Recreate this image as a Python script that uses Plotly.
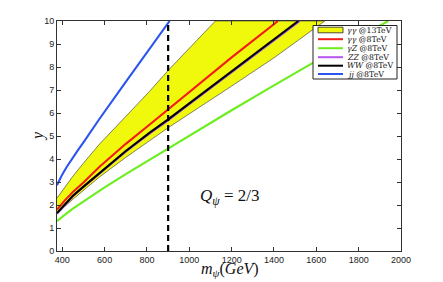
import plotly.graph_objects as go

# ---------------- data ----------------
band_upper_x = [375, 390, 410, 450, 500, 576, 700, 813, 900, 1000, 1123]
band_upper_y = [2.3, 2.5, 2.75, 3.25, 3.82, 4.65, 5.85, 6.95, 7.85, 8.8, 10.0]
band_lower_x = [375, 390, 410, 450, 500, 576, 700, 813, 900, 1000, 1200, 1400, 1640]
band_lower_y = [1.6, 1.74, 1.92, 2.25, 2.65, 3.22, 4.07, 4.8, 5.36, 5.97, 7.17, 8.4, 10.0]

aa8_x = [375, 390, 410, 450, 500, 576, 700, 813, 900, 1000, 1200, 1419]
aa8_y = [1.8, 1.97, 2.18, 2.57, 2.98, 3.66, 4.66, 5.5, 6.15, 6.9, 8.42, 10.0]

az8_x = [375, 390, 410, 450, 500, 600, 700, 800, 900, 1000, 1200, 1400, 1600, 1800, 1940]
az8_y = [1.3, 1.42, 1.56, 1.84, 2.16, 2.77, 3.34, 3.9, 4.45, 5.0, 6.12, 7.2, 8.27, 9.3, 10.0]

zz8_x = [375, 390, 410, 450, 500, 576, 700, 813, 900, 1000, 1200, 1400, 1522]
zz8_y = [1.63, 1.79, 1.99, 2.38, 2.78, 3.38, 4.32, 5.11, 5.68, 6.38, 7.77, 9.14, 10.0]

ww8_x = [375, 390, 410, 450, 500, 576, 700, 813, 900, 1000, 1200, 1400, 1515]
ww8_y = [1.65, 1.81, 2.01, 2.4, 2.8, 3.4, 4.35, 5.15, 5.72, 6.42, 7.82, 9.2, 10.0]

jj8_x = [375, 385, 400, 420, 445, 470, 500, 576, 700, 773, 850, 907]
jj8_y = [2.86, 3.06, 3.33, 3.64, 4.0, 4.33, 4.72, 5.75, 7.35, 8.27, 9.25, 10.0]

mass_cut = 900
x_ticks = [400, 600, 800, 1000, 1200, 1400, 1600, 1800, 2000]
y_ticks = list(range(0, 11))

legend_labels = [
    "<i>γγ</i> @13TeV",
    "<i>γγ</i> @8TeV",
    "<i>γZ</i> @8TeV",
    "<i>ZZ</i> @8TeV",
    "<i>WW</i> @8TeV",
    "<i>jj</i> @8TeV",
]

# ---------------- styles ----------------
YELLOW = "#f0f80c"
RED = "#f21c1c"
GREEN = "#6cee1e"
PURPLE = "#b455f0"
BLACK = "#000000"
BLUE = "#2a55ee"
SERIF = "Liberation Serif, DejaVu Serif, serif"
LEG_SERIF = "DejaVu Serif, Liberation Serif, serif"
SANS = "Liberation Sans, Arial, sans-serif"

W, H = 443, 282
L, R, T, B = 57, 401, 21, 251  # plot area in px

fig = go.Figure()

# yellow band polygon
poly_x = band_upper_x + band_lower_x[::-1]
poly_y = band_upper_y + band_lower_y[::-1]
fig.add_trace(go.Scatter(x=poly_x, y=poly_y, mode="lines", fill="toself",
                         fillcolor=YELLOW, line=dict(color="#333", width=0.6),
                         hoverinfo="skip", showlegend=False))

for xs, ys, col in [(az8_x, az8_y, GREEN), (jj8_x, jj8_y, BLUE),
                    (aa8_x, aa8_y, RED), (zz8_x, zz8_y, PURPLE),
                    (ww8_x, ww8_y, BLACK)]:
    fig.add_trace(go.Scatter(x=xs, y=ys, mode="lines",
                             line=dict(color=col, width=2.1),
                             showlegend=False))

# dashed vertical line
fig.add_trace(go.Scatter(x=[mass_cut, mass_cut], y=[0, 10], mode="lines",
                         line=dict(color=BLACK, width=2.2, dash="6px,4px"),
                         showlegend=False))

# ---------------- manual legend ----------------
def px_x(p):
    return (p - L) / (R - L)

def px_y(p):
    return (B - p) / (B - T)

shapes = []
annotations = []
shapes.append(dict(type="rect", xref="paper", yref="paper",
                   x0=px_x(313), x1=px_x(397), y0=px_y(79), y1=px_y(25.5),
                   fillcolor="white", line=dict(color="#222", width=1), layer="above"))
row_y = [30, 39.2, 48.2, 57.2, 65.7, 74]
line_cols = [None, RED, GREEN, PURPLE, BLACK, BLUE]
for i, (yy, lab) in enumerate(zip(row_y, legend_labels)):
    if i == 0:
        shapes.append(dict(type="rect", xref="paper", yref="paper",
                           x0=px_x(318), x1=px_x(343), y0=px_y(yy + 2.8), y1=px_y(yy - 2.8),
                           fillcolor=YELLOW, line=dict(color="#222", width=0.8), layer="above"))
    else:
        shapes.append(dict(type="line", xref="paper", yref="paper",
                           x0=px_x(318), x1=px_x(343), y0=px_y(yy), y1=px_y(yy),
                           line=dict(color=line_cols[i], width=2), layer="above"))
    annotations.append(dict(xref="paper", yref="paper", x=px_x(345), y=px_y(yy),
                            xanchor="left", yanchor="middle", text=lab, showarrow=False,
                            font=dict(family=LEG_SERIF, size=7.8, color="#111")))

annotations.append(dict(x=1191, y=2.33, xref="x", yref="y", showarrow=False,
                        text="<i>Q</i><sub><i>ψ</i></sub> = 2/3",
                        font=dict(family=SERIF, size=17, color="#111")))

# axis titles as annotations for exact placement
annotations.append(dict(xref="paper", yref="paper", x=px_x(230), y=px_y(269),
                        xanchor="center", yanchor="middle", showarrow=False,
                        text="<i>m</i><sub><i>ψ</i></sub>(<i>GeV</i>)",
                        font=dict(family=SERIF, size=16, color="#111")))
annotations.append(dict(xref="paper", yref="paper", x=px_x(38), y=px_y(136),
                        xanchor="center", yanchor="middle", showarrow=False,
                        text="<i>y</i>", textangle=-90,
                        font=dict(family=SERIF, size=16, color="#111")))

fig.update_layout(
    width=W, height=H,
    margin=dict(l=L, r=W - R, t=T, b=H - B, pad=0),
    paper_bgcolor="white", plot_bgcolor="white",
    shapes=shapes, annotations=annotations,
    showlegend=False,
    xaxis=dict(range=[375, 2000], tickvals=x_ticks, ticks="inside", ticklen=4,
               tickcolor="#333", showline=True, linecolor="#333", linewidth=1,
               mirror="allticks", showgrid=False, zeroline=False,
               tickfont=dict(family=SANS, size=9, color="#222")),
    yaxis=dict(range=[0, 10], tickvals=y_ticks, ticks="inside", ticklen=4,
               tickcolor="#333", showline=True, linecolor="#333", linewidth=1,
               mirror="allticks", showgrid=False, zeroline=False,
               tickfont=dict(family=SANS, size=9, color="#222")),
)

fig.write_html("out.html", config={"displayModeBar": False},
               post_script="document.body.style.margin='0px';document.body.style.padding='0px';")
